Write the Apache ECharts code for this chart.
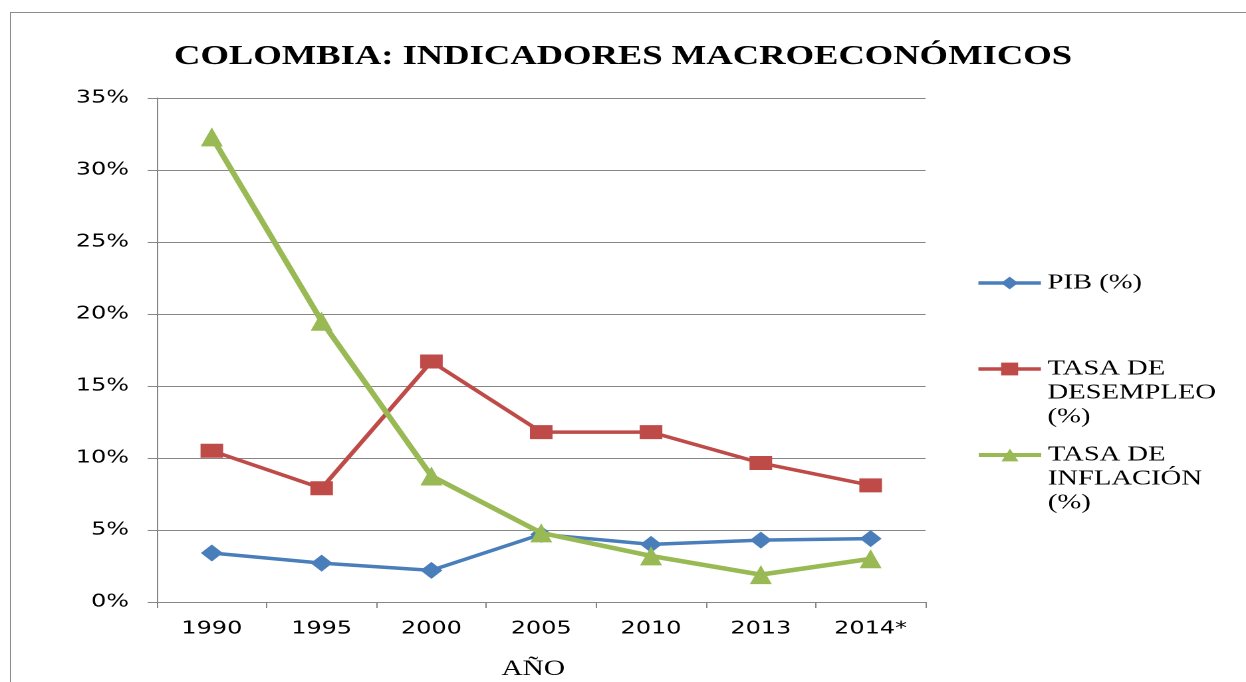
<!DOCTYPE html>
<html>
<head>
<meta charset="utf-8">
<script src="https://cdn.jsdelivr.net/npm/echarts@6/dist/echarts.min.js"></script>
<style>
  html, body { margin: 0; padding: 0; background: #fff; overflow: hidden; }
  #wrap { position: relative; width: 1246px; height: 682px; overflow: hidden; }
  #frame { position: absolute; left: 10px; top: 12px; width: 1400px; height: 900px; border-left: 1px solid #8c8c8c; border-top: 1px solid #8c8c8c; }
  /* el grafico original esta estirado a lo ancho: se dibuja a 937px y se escala */
  #chart { position: absolute; left: 0; top: 0; width: 937px; height: 682px; transform: scaleX(1.32978); transform-origin: 0 0; }
</style>
</head>
<body>
<div id="wrap">
  <div id="frame"></div>
  <div id="chart"></div>
</div>
<script>
// datos (en %)
const years = ["1990", "1995", "2000", "2005", "2010", "2013", "2014*"];
const pib = [3.4, 2.7, 2.2, 4.7, 4.0, 4.3, 4.4];
const desempleo = [10.5, 7.9, 16.7, 11.8, 11.8, 9.65, 8.1];
const inflacion = [32.3, 19.5, 8.75, 4.8, 3.2, 1.9, 3.0];

const serif = "'Liberation Serif', 'Times New Roman', serif";
const sans = "'DejaVu Sans', Verdana, sans-serif";

const legendText = {
  fontFamily: serif,
  fontSize: 21.5,
  color: "#000",
  lineHeight: 24
};

let myChart = echarts.init(document.getElementById("chart"), null, { renderer: "canvas", devicePixelRatio: 2 });
let option = {
  animation: false,
  title: {
    text: "COLOMBIA: INDICADORES MACROECONÓMICOS",
    left: "center",
    top: 38,
    textStyle: {
      fontFamily: serif,
      fontWeight: "bold",
      fontSize: 27.5,
      color: "#000"
    }
  },
  legend: [
    {
      orient: "vertical",
      left: 729,
      top: 266,
      itemWidth: 47,
      itemHeight: 16,
      lineStyle: { width: 3.5 },
      textStyle: legendText,
      data: ["PIB (%)"]
    },
    {
      orient: "vertical",
      left: 729,
      top: 304,
      itemWidth: 47,
      itemHeight: 16,
      lineStyle: { width: 3.5 },
      textStyle: legendText,
      formatter: () => "\n\nTASA DE\nDESEMPLEO\n(%)",
      data: ["TASA DE DESEMPLEO (%)"]
    },
    {
      orient: "vertical",
      left: 729,
      top: 390,
      itemWidth: 47,
      itemHeight: 16,
      lineStyle: { width: 4 },
      textStyle: legendText,
      formatter: () => "\n\nTASA DE\nINFLACIÓN\n(%)",
      data: ["TASA DE INFLACIÓN (%)"]
    }
  ],
  grid: {
    left: 118,
    right: 241,
    top: 98,
    bottom: 80,
    containLabel: false,
    outerBoundsMode: "none"
  },
  xAxis: {
    type: "category",
    data: years,
    boundaryGap: true,
    name: "AÑO",
    nameLocation: "middle",
    nameGap: 56,
    nameTextStyle: {
      fontFamily: serif,
      fontSize: 22,
      color: "#000",
      padding: [0, 12, 0, 0]
    },
    axisLine: { lineStyle: { color: "#868686", width: 1 } },
    axisTick: { show: true, alignWithLabel: false, length: 6, lineStyle: { color: "#868686" } },
    axisLabel: {
      fontFamily: sans,
      fontSize: 18,
      color: "#000",
      margin: 18
    },
    splitLine: { show: false }
  },
  yAxis: {
    type: "value",
    min: 0,
    max: 35,
    interval: 5,
    axisLine: { show: true, lineStyle: { color: "#868686", width: 1 } },
    axisTick: { show: true, length: 7, lineStyle: { color: "#868686" } },
    axisLabel: {
      fontFamily: sans,
      fontSize: 18,
      color: "#000",
      margin: 21,
      formatter: "{value}%"
    },
    splitLine: { show: true, lineStyle: { color: "#868686", width: 1 } }
  },
  series: [
    {
      name: "PIB (%)",
      type: "line",
      data: pib,
      symbol: "diamond",
      symbolSize: [16.5, 17],
      lineStyle: { color: "#4a7ebb", width: 3.5 },
      itemStyle: { color: "#4a7ebb" },
      z: 2
    },
    {
      name: "TASA DE DESEMPLEO (%)",
      type: "line",
      data: desempleo,
      symbol: "rect",
      symbolSize: [17, 14],
      lineStyle: { color: "#be4b48", width: 3.5 },
      itemStyle: { color: "#be4b48" },
      z: 3
    },
    {
      name: "TASA DE INFLACIÓN (%)",
      type: "line",
      data: inflacion,
      symbol: "triangle",
      symbolSize: [16.5, 19],
      lineStyle: { color: "#98b954", width: 4.5 },
      itemStyle: { color: "#98b954" },
      z: 4
    }
  ]
};
myChart.setOption(option);
window.onresize = () => {
  myChart.resize();
};
</script>
</body>
</html>
